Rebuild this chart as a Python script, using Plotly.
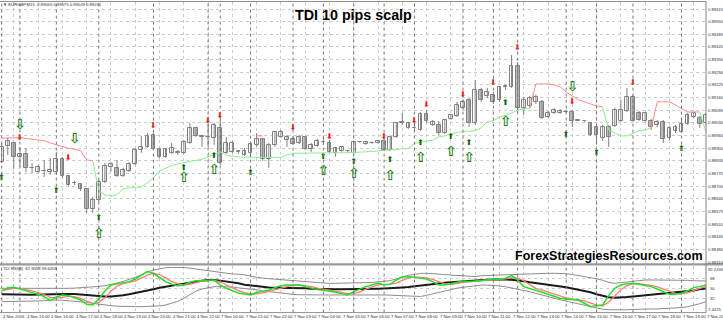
import plotly.graph_objects as go

W, H = 723, 321

# ---------------- data ----------------
bars = list(range(117))

open_ = [
0.88829, 0.88912, 0.88927, 0.88855, 0.88871, 0.88799, 0.88778, 0.88783, 0.88778, 0.88778,
0.88845, 0.88757, 0.88719, 0.88716, 0.88691, 0.88588, 0.88634, 0.88727, 0.88804, 0.88799,
0.88757, 0.88783, 0.88819, 0.88891, 0.88907, 0.88968, 0.88896, 0.88855, 0.88876, 0.88878,
0.88876, 0.88927, 0.89004, 0.88960, 0.88958, 0.88953, 0.89004, 0.88876, 0.88881, 0.88883,
0.88865, 0.88876, 0.88917, 0.88948, 0.88845, 0.88917, 0.88958, 0.88942, 0.88948, 0.88927,
0.88958, 0.88896, 0.88912, 0.88934, 0.88927, 0.88876, 0.88886, 0.88888, 0.88876, 0.88934,
0.88922, 0.88929, 0.88927, 0.88937, 0.88891, 0.88958, 0.89032, 0.89004, 0.89006, 0.88994,
0.89076, 0.89020, 0.89020, 0.88978, 0.89050, 0.89066, 0.89107, 0.89148, 0.89030, 0.89199,
0.89169, 0.89174, 0.89148, 0.89217, 0.89215, 0.89323, 0.89107, 0.89117, 0.89138, 0.89138,
0.89061, 0.89081, 0.89081, 0.89088, 0.89086, 0.89042, 0.89042, 0.89030, 0.89009, 0.88953,
0.89009, 0.89014, 0.89040, 0.89091, 0.89163, 0.89081, 0.89040, 0.89040, 0.89020, 0.89035,
0.88953, 0.88989, 0.88984, 0.89025, 0.89061, 0.89055, 0.89030]

high_ = [
0.88927, 0.88953, 0.88932, 0.88907, 0.88901, 0.88824, 0.88814, 0.88840, 0.88850, 0.88881,
0.88855, 0.88763, 0.88732, 0.88721, 0.88696, 0.88649, 0.88737, 0.88824, 0.88829, 0.88840,
0.88799, 0.88829, 0.88901, 0.88963, 0.88978, 0.88978, 0.88901, 0.88901, 0.88927, 0.88891,
0.88942, 0.89030, 0.89009, 0.88968, 0.89020, 0.89030, 0.89045, 0.88958, 0.88937, 0.88891,
0.88901, 0.88927, 0.88978, 0.88953, 0.88927, 0.88989, 0.88994, 0.88968, 0.88958, 0.88968,
0.88963, 0.88927, 0.88948, 0.88953, 0.88942, 0.88907, 0.88912, 0.88891, 0.88937, 0.88937,
0.88937, 0.88932, 0.88942, 0.88948, 0.88963, 0.89035, 0.89081, 0.89035, 0.89030, 0.89086,
0.89097, 0.89045, 0.89040, 0.89050, 0.89076, 0.89138, 0.89148, 0.89158, 0.89251, 0.89210,
0.89210, 0.89189, 0.89220, 0.89225, 0.89379, 0.89343, 0.89163, 0.89169, 0.89174, 0.89148,
0.89091, 0.89107, 0.89102, 0.89097, 0.89097, 0.89050, 0.89045, 0.89035, 0.89020, 0.89020,
0.89020, 0.89107, 0.89148, 0.89210, 0.89174, 0.89091, 0.89086, 0.89050, 0.89045, 0.89045,
0.89014, 0.89020, 0.89045, 0.89081, 0.89086, 0.89066, 0.89081]

low_ = [
0.88824, 0.88865, 0.88793, 0.88804, 0.88778, 0.88773, 0.88773, 0.88752, 0.88763, 0.88763,
0.88747, 0.88706, 0.88711, 0.88680, 0.88567, 0.88567, 0.88624, 0.88721, 0.88778, 0.88752,
0.88752, 0.88778, 0.88814, 0.88876, 0.88901, 0.88891, 0.88850, 0.88850, 0.88871, 0.88865,
0.88871, 0.88922, 0.88958, 0.88907, 0.88907, 0.88917, 0.88814, 0.88871, 0.88876, 0.88871,
0.88860, 0.88855, 0.88907, 0.88835, 0.88799, 0.88907, 0.88953, 0.88907, 0.88917, 0.88922,
0.88891, 0.88881, 0.88907, 0.88917, 0.88876, 0.88855, 0.88881, 0.88876, 0.88871, 0.88927,
0.88917, 0.88922, 0.88922, 0.88886, 0.88886, 0.88953, 0.89020, 0.88999, 0.88989, 0.88989,
0.89030, 0.89014, 0.88968, 0.88973, 0.89045, 0.89061, 0.89097, 0.89009, 0.89020, 0.89138,
0.89158, 0.89127, 0.89138, 0.89199, 0.89210, 0.89086, 0.89071, 0.89107, 0.89127, 0.89050,
0.89055, 0.89076, 0.89076, 0.89081, 0.89009, 0.89040, 0.89035, 0.88963, 0.88927, 0.88937,
0.88907, 0.89009, 0.89035, 0.89086, 0.89035, 0.89040, 0.89035, 0.88994, 0.89009, 0.88927,
0.88942, 0.88978, 0.88978, 0.89020, 0.89055, 0.89004, 0.89020]

close_ = [
0.88907, 0.88937, 0.88855, 0.88871, 0.88799, 0.88796, 0.88804, 0.88781, 0.88788, 0.88845,
0.88757, 0.88711, 0.88721, 0.88691, 0.88588, 0.88634, 0.88727, 0.88809, 0.88819, 0.88757,
0.88788, 0.88819, 0.88891, 0.88907, 0.88963, 0.88896, 0.88855, 0.88896, 0.88901, 0.88876,
0.88932, 0.89004, 0.88963, 0.88958, 0.88956, 0.89020, 0.88824, 0.88927, 0.88927, 0.88881,
0.88886, 0.88922, 0.88948, 0.88845, 0.88917, 0.88984, 0.88984, 0.88958, 0.88922, 0.88958,
0.88896, 0.88917, 0.88937, 0.88932, 0.88881, 0.88901, 0.88907, 0.88886, 0.88932, 0.88932,
0.88932, 0.88927, 0.88937, 0.88891, 0.88958, 0.89030, 0.89030, 0.89030, 0.89004, 0.89076,
0.89040, 0.89035, 0.88978, 0.89045, 0.89071, 0.89122, 0.89138, 0.89030, 0.89199, 0.89148,
0.89189, 0.89138, 0.89215, 0.89215, 0.89323, 0.89107, 0.89148, 0.89158, 0.89163, 0.89055,
0.89081, 0.89097, 0.89091, 0.89086, 0.89040, 0.89045, 0.89040, 0.88968, 0.88968, 0.89009,
0.88958, 0.89097, 0.89097, 0.89163, 0.89040, 0.89045, 0.89081, 0.89009, 0.89035, 0.88948,
0.89004, 0.89009, 0.89025, 0.89071, 0.89081, 0.89025, 0.89071]

# trailing stop line (one value per bar) and its colour state per bar
trail = [
0.88951, 0.88953, 0.88954, 0.88955, 0.88950, 0.88946, 0.88942, 0.88938, 0.88927, 0.88917,
0.88909, 0.88899, 0.88894, 0.88887, 0.88840, 0.88835, 0.88680, 0.88660, 0.88655, 0.88660,
0.88691, 0.88696, 0.88698, 0.88701, 0.88721, 0.88747, 0.88783, 0.88799, 0.88811, 0.88819,
0.88827, 0.88832, 0.88837, 0.88842, 0.88855, 0.88868, 0.88881, 0.88863, 0.88858, 0.88855,
0.88853, 0.88853, 0.88853, 0.88853, 0.88853, 0.88853, 0.88853, 0.88865, 0.88874, 0.88874,
0.88874, 0.88874, 0.88874, 0.88874, 0.88874, 0.88876, 0.88877, 0.88877, 0.88878, 0.88879,
0.88881, 0.88883, 0.88886, 0.88888, 0.88891, 0.88893, 0.88895, 0.88899, 0.88924, 0.88932,
0.88937, 0.88940, 0.88958, 0.88963, 0.88973, 0.88981, 0.88984, 0.88989, 0.88991, 0.89004,
0.89037, 0.89041, 0.89061, 0.89068, 0.89081, 0.89094, 0.89102, 0.89105, 0.89230, 0.89230,
0.89230, 0.89225, 0.89215, 0.89189, 0.89169, 0.89148, 0.89138, 0.89127, 0.89117, 0.89112,
0.88994, 0.88978, 0.88963, 0.88963, 0.88978, 0.88989, 0.88994, 0.89004, 0.89138, 0.89138,
0.89138, 0.89122, 0.89102, 0.89086, 0.89086, 0.89086, 0.88984]
trail_state = ("rrrrrrrrrrrrrrrr"
               "gggggggggggggggggggggggggggggggggggggggggggggggggggggggggggggggggggggggg"
               "rrrrrrrrrrrr" "gggggggg" "rrrrrrrr" "g")
trail_extra_bars = [42, 43]
trail_extra_vals = [0.88963, 0.88963]

# signal arrows
red_dn_bars = [3, 11, 25, 34, 36, 48, 54, 63, 68, 70, 76, 81, 85, 94, 104]
red_dn_vals = [0.88953, 0.88850, 0.89014, 0.89040, 0.89066, 0.89004, 0.88958, 0.88958,
               0.89040, 0.89122, 0.89174, 0.89235, 0.89415, 0.89138, 0.89235]
grn_up_bars = [0, 9, 16, 30, 35, 41, 53, 58, 64, 69, 74, 77, 83, 93, 98, 112]
grn_up_vals = [0.88747, 0.88680, 0.88541, 0.88799, 0.88860, 0.88773, 0.88855, 0.88829,
               0.88840, 0.88927, 0.88958, 0.88927, 0.89133, 0.88968, 0.88876, 0.88896]
hol_up_bars = [16, 30, 35, 53, 58, 64, 69, 74, 77, 83]
hol_up_vals = [0.88459, 0.88742, 0.88783, 0.88778, 0.88763, 0.88752, 0.88845, 0.88876,
               0.88845, 0.89030]
hol_dn_bars = [3, 12, 94]
hol_dn_vals = [0.89014, 0.88942, 0.89210]
signal_line_bars = [0, 3, 9, 16, 25, 34, 36, 41, 48, 53, 58, 63, 68, 76, 81, 85, 93, 98, 104, 112]

# TDI sub-window
rsi_line = [
46.4, 52.4, 53.0, 49.4, 46.4, 43.4, 40.4, 36.2, 29.0, 35.6,
39.2, 38.0, 34.4, 30.2, 22.4, 21.2, 32.0, 46.4, 57.2, 59.6,
61.4, 63.2, 68.0, 75.2, 81.2, 78.2, 70.4, 63.2, 58.4, 56.0,
57.2, 62.0, 65.0, 65.6, 66.2, 65.6, 57.2, 51.2, 47.0, 42.8,
41.0, 39.2, 44.0, 45.2, 48.2, 52.4, 56.0, 57.2, 57.2, 57.2,
54.2, 51.2, 48.8, 47.6, 46.4, 44.0, 41.6, 39.2, 45.2, 50.0,
54.2, 57.2, 60.8, 57.2, 58.4, 66.2, 71.6, 72.2, 71.0, 70.4,
68.0, 63.2, 57.2, 57.2, 59.6, 63.2, 64.4, 63.2, 64.4, 66.2,
66.8, 67.4, 67.4, 69.2, 74.0, 66.2, 54.2, 51.2, 48.2, 44.0,
40.4, 36.2, 33.2, 32.0, 31.4, 29.6, 24.2, 18.2, 20.0, 21.2,
38.0, 51.2, 57.2, 59.6, 60.2, 58.4, 57.2, 54.2, 50.0, 45.2,
40.4, 40.4, 42.2, 46.4, 52.4, 54.2, 57.2]
signal_line = [
47, 49, 51, 51, 49, 46.5, 43.5, 40, 35, 34,
35, 37, 36, 33, 28, 24, 26, 34, 46, 55,
59.5, 61.5, 64.5, 69.5, 75, 78, 76, 70, 63.5, 59,
57, 58.5, 61.5, 64, 65.5, 65.8, 62.5, 57, 51.5, 47,
43.5, 41, 41.4, 42.8, 45.8, 48.6, 52.2, 55.2, 56.8, 57.2,
56.2, 54.2, 51.4, 49.2, 47.6, 46, 44, 41.6, 42, 44.8,
49.8, 53.8, 57.4, 58.4, 58.8, 60.6, 65.4, 70, 71.6, 71.2,
69.8, 67.2, 62.8, 59.2, 58, 60, 62.4, 63.6, 64, 64.6,
65.8, 66.8, 67.2, 68, 70.2, 69.8, 64.8, 57.2, 51.2, 47.8,
44.2, 40.2, 36.6, 33.8, 32.2, 31, 28.4, 24, 20.8, 19.8,
26.4, 36.8, 48.8, 56, 59, 59.4, 58.6, 56.6, 53.8, 49.8,
45.2, 42, 41, 43, 47, 51, 54.6]
base_line = [
40.4, 40, 39.6, 39.2, 39.2, 39.6, 40.2, 40.6, 41, 41,
41, 41, 41, 40, 39, 38, 37, 36.5, 36.5, 37.2,
38.5, 40.5, 42.5, 44.5, 47, 49.5, 52, 54, 56, 58,
60, 62, 64, 65, 66, 66.2, 65, 63.5, 62, 60.2,
57.5, 56, 54.5, 53.5, 52.8, 52.4, 52.4, 52.3, 52, 51.6,
51.2, 50.6, 50, 49.5, 49.4, 49.4, 49.4, 49.4, 49.4, 49.6,
50, 50.2, 50.6, 51, 51.2, 52, 52.8, 53.5, 55, 56.5,
57.5, 59, 60.2, 61.2, 62.3, 63.2, 64, 65, 66, 66.2,
66.8, 67.2, 67.4, 67, 66.4, 65.5, 64, 62.2, 60.8, 59.5,
58, 56.5, 55, 53, 51, 49, 47, 44, 40.5, 37.5,
35, 34.4, 34.4, 35.5, 36.5, 37.5, 38.7, 39.7, 40.5, 41.6,
42.5, 43.3, 44.2, 45.5, 47.3, 49.3, 51]
upper_band = [
51.2, 51.2, 51.2, 51, 50.8, 50.4, 50, 50, 50, 50,
50.6, 51.2, 51.6, 52.2, 52.6, 53.5, 54.5, 56, 58, 60.5,
63.5, 67, 71, 75.5, 80.5, 84, 86.5, 88.3, 88.8, 89,
88.6, 87.5, 86, 84, 82, 80.5, 79, 78, 77, 76.5,
75.5, 73, 71, 69.5, 68.5, 67.8, 67, 66.2, 65.5, 64.5,
63.5, 62.5, 61.5, 60.6, 60.2, 60.2, 60.2, 60.2, 60.5, 61,
61.4, 61.8, 62.5, 63.2, 65, 68, 72, 74.5, 76.5, 78,
78.2, 77.8, 76.8, 76, 75, 74.2, 73.5, 72.8, 72.4, 73.8,
74.3, 74.8, 75.2, 75.7, 76.2, 76.6, 77.3, 78, 78.2, 78.2,
78.2, 78.2, 78.2, 77.5, 76, 74.2, 72.5, 70.5, 68.5, 65.5,
62, 60.2, 61.5, 63.2, 64.5, 65.5, 66.2, 66.2, 66.2, 66.2,
66.2, 66.2, 66, 65.5, 64.8, 64.4, 64.4]
lower_band = [
27.2, 27.2, 27.2, 27.2, 27.4, 28, 28.4, 29, 30, 30.2,
29.6, 29, 28.4, 27.5, 26, 24, 22.4, 21.2, 20, 19,
18.4, 18.2, 18.2, 18.2, 18.2, 18.5, 19.5, 21.2, 24, 27.5,
33, 40, 46, 50, 52.5, 54, 54.2, 54.2, 53.5, 52,
51, 50, 48.5, 46.5, 45, 43.5, 42, 40.8, 40.2, 39.6,
39.2, 39.2, 39.2, 39.2, 39.2, 39.2, 39.6, 40.2, 40.4, 40.4,
40.2, 39.8, 39.4, 39.2, 38.8, 38.2, 37.6, 37, 36.4, 36.5,
38.5, 41, 44, 47, 49.5, 51.5, 53, 54.5, 56, 57,
57, 56.5, 55.5, 54, 52, 50, 47.5, 45, 42, 39.5,
36.5, 33.5, 30.5, 28, 25.5, 23, 20.5, 17.5, 15, 13.5,
12.5, 12.2, 12.2, 12.6, 13.2, 13.8, 14, 14, 14, 14.5,
15, 15.5, 16.5, 18, 20.5, 23.5, 27]

price_levels = [0.89615, 0.89550, 0.89485, 0.89420, 0.89355, 0.89290, 0.89225, 0.89160,
                0.89095, 0.89030, 0.88965, 0.88900, 0.88835, 0.88770, 0.88705, 0.88640,
                0.88575, 0.88510, 0.88445, 0.88380, 0.88315]
tdi_levels = [32, 50, 68]
tdi_min, tdi_max = 7.4425, 92.2435
time_label_bars = [0, 4, 8, 12, 16, 20, 24, 28, 32, 36, 40, 44, 48, 52, 56, 60, 64, 68,
                   72, 76, 80, 84, 88, 92, 96, 100, 104, 108, 112, 116]
time_labels = ["4 Nov 2016", "4 Nov 15:00", "4 Nov 16:00", "4 Nov 17:00", "4 Nov 18:00",
               "4 Nov 19:00", "4 Nov 20:00", "4 Nov 21:00", "4 Nov 22:00", "7 Nov 00:00",
               "7 Nov 01:00", "7 Nov 02:00", "7 Nov 03:00", "7 Nov 04:00", "7 Nov 05:00",
               "7 Nov 06:00", "7 Nov 07:00", "7 Nov 08:00", "7 Nov 09:00", "7 Nov 10:00",
               "7 Nov 11:00", "7 Nov 12:00", "7 Nov 13:00", "7 Nov 14:00", "7 Nov 15:00",
               "7 Nov 16:00", "7 Nov 17:00", "7 Nov 18:00", "7 Nov 19:00", "7 Nov 20:00"]
grid_bars = [2, 6, 10, 14, 18, 22, 26, 30, 34, 38, 42, 46, 50, 54, 58, 62, 66, 70, 74,
             78, 82, 86, 90, 94, 98, 102, 106, 110, 114]

# ---------------- layout helpers ----------------
def px_x(p):
    return p / W

def px_y(p):
    return 1 - p / H

FONT = "Liberation Sans, Arial, sans-serif"
SYM = "DejaVu Sans"
MAIN_DOM = [px_y(263), px_y(2)]
SUB_DOM = [px_y(312.6), px_y(265.5)]
XDOM = [0, px_x(706)]
XRANGE = [-0.28, 116.03]

fig = go.Figure()

# wicks
wx, wy = [], []
for k in bars:
    wx += [k, k, None]
    wy += [low_[k], high_[k], None]
fig.add_trace(go.Scatter(x=wx, y=wy, mode="lines", line=dict(color="#808080", width=1),
                         hoverinfo="skip", xaxis="x", yaxis="y"))

# bodies
body_base = [min(o, c) for o, c in zip(open_, close_)]
body_h = [max(abs(c - o), 0.000012) for o, c in zip(open_, close_)]
body_col = ["#ffffff" if c >= o else "#c0c0c0" for o, c in zip(open_, close_)]
fig.add_trace(go.Bar(x=bars, y=body_h, base=body_base, width=0.62,
                     marker=dict(color=body_col, line=dict(color="#808080", width=1)),
                     hoverinfo="skip", xaxis="x", yaxis="y"))

# trailing line
n = len(bars)
up = [trail[k] if (trail_state[k] == "g" or (k + 1 < n and trail_state[k + 1] == "g")) else None for k in bars]
dn = [trail[k] if (trail_state[k] == "r" or (k + 1 < n and trail_state[k + 1] == "r")) else None for k in bars]
fig.add_trace(go.Scatter(x=bars, y=dn, mode="lines", connectgaps=False,
                         line=dict(color="#ff8a8a", width=1), hoverinfo="skip"))
fig.add_trace(go.Scatter(x=bars, y=up, mode="lines", connectgaps=False,
                         line=dict(color="#8ef08e", width=1), hoverinfo="skip"))
fig.add_trace(go.Scatter(x=trail_extra_bars, y=trail_extra_vals, mode="lines",
                         line=dict(color="#ff8a8a", width=1), hoverinfo="skip"))

# arrows (glyphs)
fig.add_trace(go.Scatter(x=hol_up_bars, y=hol_up_vals, mode="text", text=["\u21e7"] * len(hol_up_bars),
                         textposition="middle center",
                         textfont=dict(family=SYM, size=14, color="#1f7f1f", weight="bold"),
                         hoverinfo="skip"))
fig.add_trace(go.Scatter(x=hol_dn_bars, y=hol_dn_vals, mode="text", text=["\u21e9"] * len(hol_dn_bars),
                         textposition="middle center",
                         textfont=dict(family=SYM, size=14, color="#1f7f1f", weight="bold"),
                         hoverinfo="skip"))
fig.add_trace(go.Scatter(x=red_dn_bars, y=red_dn_vals, mode="text", text=["\u2b07"] * len(red_dn_bars),
                         textposition="middle center",
                         textfont=dict(family=SYM, size=8, color="#ff1010"), hoverinfo="skip"))
fig.add_trace(go.Scatter(x=grn_up_bars, y=grn_up_vals, mode="text", text=["\u2b06"] * len(grn_up_bars),
                         textposition="middle center",
                         textfont=dict(family=SYM, size=8, color="#006400"), hoverinfo="skip"))

# TDI
for vals, col, wd in [(upper_band, "#8c8c8c", 1), (lower_band, "#8c8c8c", 1),
                      (base_line, "#1a1a1a", 2), (signal_line, "#ff7a7a", 1.3),
                      (rsi_line, "#22e022", 1.5)]:
    fig.add_trace(go.Scatter(x=bars, y=vals, mode="lines", line=dict(color=col, width=wd),
                             hoverinfo="skip", xaxis="x2", yaxis="y2"))

grid_common = dict(showgrid=True, gridcolor="#cdcdcd", griddash="dot", gridwidth=1,
                   zeroline=False, showticklabels=False, ticks="", showline=False)

fig.update_layout(
    width=W, height=H, margin=dict(l=0, r=0, t=0, b=0),
    paper_bgcolor="white", plot_bgcolor="white", showlegend=False, bargap=0,
    xaxis=dict(domain=XDOM, range=XRANGE, anchor="y", tickmode="array",
               tickvals=grid_bars, **grid_common),
    xaxis2=dict(domain=XDOM, range=XRANGE, anchor="y2", matches="x", tickmode="array",
                tickvals=grid_bars, **grid_common),
    yaxis=dict(domain=MAIN_DOM, range=[0.88310, 0.89651], anchor="x", tickmode="array",
               tickvals=price_levels, **grid_common),
    yaxis2=dict(domain=SUB_DOM, range=[tdi_min, tdi_max], anchor="x2", tickmode="array",
                tickvals=tdi_levels, **grid_common),
)

shapes = []
for k in signal_line_bars:
    shapes.append(dict(type="line", xref="x", yref="paper", x0=k, x1=k,
                       y0=px_y(312.6), y1=px_y(2), line=dict(color="#757575", width=1, dash="dot")))
shapes.append(dict(type="line", xref="paper", yref="paper", x0=0, x1=px_x(706),
                   y0=px_y(1.5), y1=px_y(1.5), line=dict(color="#909090", width=1)))
shapes.append(dict(type="line", xref="paper", yref="paper", x0=0, x1=1,
                   y0=px_y(264.3), y1=px_y(264.3), line=dict(color="#9a9a9a", width=2.2)))
shapes.append(dict(type="line", xref="paper", yref="paper", x0=px_x(706), x1=px_x(706),
                   y0=px_y(312.6), y1=px_y(1.5), line=dict(color="#808080", width=1)))
shapes.append(dict(type="line", xref="paper", yref="paper", x0=0, x1=px_x(706),
                   y0=px_y(312.6), y1=px_y(312.6), line=dict(color="#909090", width=1)))
fig.update_layout(shapes=shapes)

ann = []
small = dict(family=FONT, size=4.2, color="#303030")
for lv in price_levels:
    ann.append(dict(xref="paper", yref="y", x=px_x(706.5), y=lv, text=f"{lv:.5f}",
                    showarrow=False, xanchor="left", yanchor="middle", font=small, borderpad=0))
ann.append(dict(xref="paper", yref="paper", x=px_x(706.5), y=px_y(265.5), text=f"{tdi_max}",
                showarrow=False, xanchor="left", yanchor="top", font=small, borderpad=0))
ann.append(dict(xref="paper", yref="paper", x=px_x(706.5), y=px_y(312.6), text=f"{tdi_min}",
                showarrow=False, xanchor="left", yanchor="bottom", font=small, borderpad=0))
for lv in tdi_levels:
    ann.append(dict(xref="paper", yref="y2", x=px_x(709), y=lv, text=str(lv),
                    showarrow=False, xanchor="left", yanchor="middle", font=small, borderpad=0))
for b, t in zip(time_label_bars, time_labels):
    ann.append(dict(xref="x", yref="paper", x=b, y=px_y(316.5), text=t, showarrow=False,
                    xanchor="left", yanchor="middle", font=small, borderpad=0))
ann.append(dict(xref="paper", yref="paper", x=px_x(2), y=px_y(4.5),
                text="\u25bc EURGBP,M15  0.89065 0.89075 0.89049 0.89071", showarrow=False,
                xanchor="left", yanchor="middle", font=small, borderpad=0))
ann.append(dict(xref="paper", yref="paper", x=px_x(2), y=px_y(268),
                text="TDI RSI(8)  62.9058 59.6209", showarrow=False,
                xanchor="left", yanchor="middle", font=small, borderpad=0))
ann.append(dict(xref="paper", yref="paper", x=px_x(353.5), y=px_y(15.5),
                text="<b>TDI 10 pips scalp</b>", showarrow=False, xanchor="center",
                yanchor="middle", font=dict(family=FONT, size=14.3, color="#000000")))
ann.append(dict(xref="paper", yref="paper", x=px_x(608.5), y=px_y(255.5),
                text="<b>ForexStrategiesResources.com</b>", showarrow=False, xanchor="center",
                yanchor="middle", font=dict(family=FONT, size=12.5, color="#000000")))
fig.update_layout(annotations=ann)

fig.write_html("out.html")
